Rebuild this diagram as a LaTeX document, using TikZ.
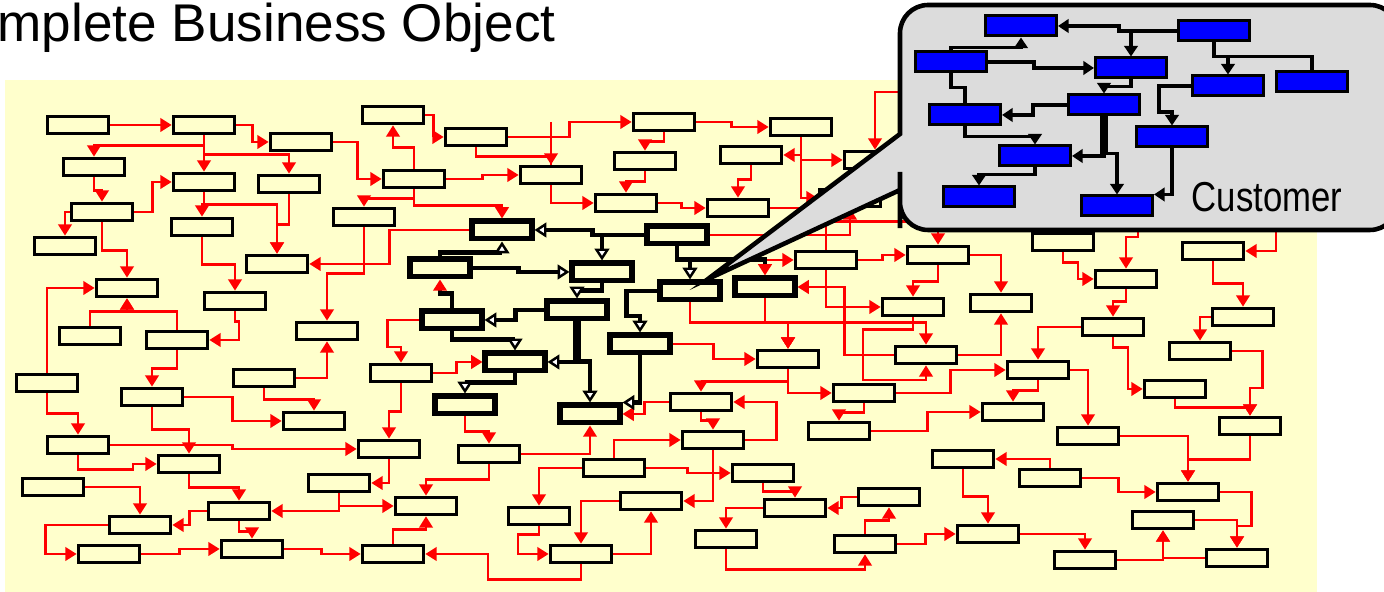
\documentclass[tikz,border=0pt]{standalone}
\usepackage{fontspec}
\setmainfont{Liberation Sans}
\newfontfamily\narrowsans[FakeStretch=0.83]{Liberation Sans}
\usetikzlibrary{arrows.meta}
\definecolor{paper}{HTML}{FFFFCC}
\definecolor{bubble}{HTML}{DCDCDC}

\begin{document}
\begin{tikzpicture}[x=0.01cm, y=-0.01cm,
    box/.style={draw, line width=0.9pt, fill=paper, minimum width=0.615cm, minimum height=0.175cm, inner sep=0pt},
    hub/.style={draw, line width=1.7pt, fill=paper, minimum width=0.59cm, minimum height=0.17cm, inner sep=0pt},
    part/.style={draw, line width=0.85pt, fill=blue, minimum width=0.71cm, minimum height=0.20cm, inner sep=0pt},
    link/.style={red, line width=0.75pt, -{Triangle[length=3.2pt,width=3.8pt]}},
    wire/.style={red, line width=0.75pt},
    tie/.style={line width=1.4pt, -{Triangle[fill=white,length=3.4pt,width=4.2pt,line width=0.7pt]}},
    redtie/.style={line width=1.4pt, -{Triangle[color=red,fill=red,length=3.2pt,width=3.8pt]}},
    rel/.style={line width=1.1pt, -{Triangle[length=3pt,width=3.8pt]}}]
    \useasboundingbox (0,0) rectangle (1384,592);

    % draw yellow sheet and title
    \fill[paper] (5,80) rectangle (1317,592);
    \node[anchor=base west, inner sep=0pt, font=\fontsize{15.1}{17}\selectfont] (title) at (-3,42) {mplete Business Object};

    % draw plain boxes
    \node[box] (n1) at (78,125) {};   \node[box] (n2) at (204,125) {};  \node[box] (n3) at (301,142) {};
    \node[box] (n4) at (94,167) {};   \node[box] (n5) at (204,182) {};  \node[box] (n6) at (289,184) {};
    \node[box] (n7) at (102,212) {};  \node[box] (n8) at (202,227) {};  \node[box] (n9) at (65,246) {};
    \node[box] (n10) at (277,264) {}; \node[box] (n11) at (127,288) {}; \node[box] (n12) at (235,301) {};
    \node[box] (n13) at (393,115) {}; \node[box] (n14) at (414,179) {}; \node[box] (n15) at (364,217) {};
    \node[box] (n16) at (327,331) {}; \node[box] (n17) at (90,336) {};  \node[box] (n18) at (177,340) {};
    \node[box] (n19) at (47,383) {};  \node[box] (n20) at (152,397) {}; \node[box] (n21) at (264,378) {};
    \node[box] (n22) at (314,421) {}; \node[box] (n23) at (401,373) {}; \node[box] (n24) at (78,445) {};
    \node[box] (n25) at (189,464) {}; \node[box] (n26) at (389,449) {}; \node[box] (n27) at (53,487) {};
    \node[box] (n28) at (339,483) {}; \node[box] (n29) at (239,511) {}; \node[box] (n30) at (426,506) {};
    \node[box] (n31) at (140,525) {}; \node[box] (n32) at (109,554) {}; \node[box] (n33) at (252,549) {};
    \node[box] (n34) at (393,554) {}; \node[box] (n35) at (476,137) {}; \node[box] (n36) at (664,122) {};
    \node[box] (n37) at (801,127) {}; \node[box] (n38) at (645,161) {}; \node[box] (n39) at (751,155) {};
    \node[box] (n40) at (551,175) {}; \node[box] (n41) at (626,203) {}; \node[box] (n42) at (738,208) {};
    \node[box] (n43) at (826,260) {}; \node[box] (n44) at (489,454) {}; \node[box] (n45) at (788,359) {};
    \node[box] (n46) at (864,393) {}; \node[box] (n47) at (701,402) {}; \node[box] (n48) at (713,440) {};
    \node[box] (n49) at (839,431) {}; \node[box] (n50) at (614,468) {}; \node[box] (n51) at (763,473) {};
    \node[box] (n52) at (651,501) {}; \node[box] (n53) at (795,508) {}; \node[box] (n54) at (889,497) {};
    \node[box] (n55) at (539,516) {}; \node[box] (n56) at (726,539) {}; \node[box] (n57) at (865,544) {};
    \node[box] (n58) at (581,554) {}; \node[box] (n59) at (926,355) {}; \node[box] (n60) at (938,255) {};
    \node[box] (n61) at (913,307) {}; \node[box] (n62) at (1001,303) {}; \node[box] (n63) at (1038,370) {};
    \node[box] (n64) at (1013,412) {}; \node[box] (n65) at (1088,436) {}; \node[box] (n66) at (1063,242) {};
    \node[box] (n67) at (1126,279) {}; \node[box] (n68) at (1113,327) {}; \node[box] (n69) at (1213,251) {};
    \node[box] (n70) at (1243,317) {}; \node[box] (n71) at (1200,351) {}; \node[box] (n72) at (1175,389) {};
    \node[box] (n73) at (1250,426) {}; \node[box] (n75) at (963,459) {};  \node[box] (n76) at (1050,478) {};
    \node[box] (n77) at (1188,492) {}; \node[box] (n78) at (1163,520) {}; \node[box] (n79) at (988,534) {};
    \node[box] (n80) at (1085,560) {}; \node[box] (n81) at (1237,558) {}; \node[box] (n83) at (850,198) {};
    \node[box] (n84) at (875,160) {};  \node[box] (n86) at (975,222) {};
    \coordinate (k1) at (1138,228);
    \coordinate (k2) at (1276,228);
    \coordinate (k3) at (898,92);

    % draw bold boxes of the customer object
    \node[hub] (t1) at (502,230) {};  \node[hub] (t2) at (677,235) {};  \node[hub] (t3) at (440,268) {};
    \node[hub] (t4) at (602,272) {};  \node[hub] (t5) at (690,291) {};  \node[hub] (t6) at (765,287) {};
    \node[hub] (t7) at (577,310) {};  \node[hub] (t8) at (452,320) {};  \node[hub] (t9) at (640,344) {};
    \node[hub] (t10) at (515,362) {}; \node[hub] (t11) at (465,405) {}; \node[hub] (t12) at (590,414) {};

    % draw red links
    \draw[link] (n1.east) -- (n2.west);
    \draw[link] (n2.east) -- ++(16,0) |- (n3.west);
    \draw[link] (n2.south) -- ++(0,10) -| (n4.north);
    \draw[link] (n2.south) -- (n5.north);
    \draw[link] (n2.south) -- ++(0,19) -| (n6.north);
    \draw[link] (n4.south) -- ++(0,13) -| (n7.north);
    \draw[link] (n7.east) -- ++(18,0) |- (n5.west);
    \draw[link] (n7.west) -| (n9.north);
    \draw[link] (n7.south) -- ++(0,28) -| (n11.north);
    \draw[link] (n5.south) -- ++(0,12) -| (n8.north);
    \draw[link] (n5.south) -- ++(0,12) -| (n10.north);
    \draw[link] (n6.south) -- ++(0,30) -| (n10.north);
    \draw[link] (n8.south) -- ++(0,27) -| (n12.north);
    \draw[link] (n3.east) -- ++(24,0) |- (n14.west);
    \draw[link] (n14.north) -- ++(0,-21) -| (n13.south);
    \draw[link] (n13.east) -- ++(8,0) |- (n35.west);
    \draw[link] (n14.east) -- ++(36,0) |- (n40.west);
    \draw[link] (n14.south) -- ++(0,9) -| (n15.north);
    \draw[link] (n14.south) -- ++(0,16) -| (t1.north);
    \draw[link] (n15.south) -- ++(0,46) -| (n16.north);
    \draw[link] (t1.west) -- ++(-80,0) |- (n10.east);
    \draw[link] (n19.north) |- (n11.west);
    \draw[link] (n17.north) -- ++(0,-14) -| (n11.south);
    \draw[link] (n18.north) -- ++(0,-18) -| (n11.south);
    \draw[link] (n12.south) -- ++(0,10) -- ++(4,0) |- (n18.east);
    \draw[link] (n18.south) -- ++(0,18) -| (n20.north);
    \draw[link] (n19.south) -- ++(0,20) -| (n24.north);
    \draw[link] (n20.east) -- ++(48,0) |- (n22.west);
    \draw[link] (n20.south) -- ++(0,22) -| (n25.north);
    \draw[link] (n21.east) -| (n16.south);
    \draw[link] (n21.south) -- ++(0,11) -| (n22.north);
    \draw[link] (t8.west) -- ++(-32,0) -- ++(0,27) -| (n23.north);
    \draw[link] (n23.east) -- ++(23,0) |- (t10.west);
    \draw[link] (n23.south) -- ++(0,28) -| (n26.north);
    \draw[link] (n24.east) -- ++(122,0) |- (n26.west);
    \draw[link] (n24.south) -- ++(0,14) -- ++(55,0) |- (n25.west);
    \draw[link] (n27.east) -| (n31.north);
    \draw[link] (n25.south) -- ++(0,13) -| (n29.north);
    \draw[link] (n26.south) |- (n28.east);
    \draw[link] (n28.south) |- (n29.east);
    \draw[link] (n28.south) |- (n30.west);
    \draw[link] (n34.north) -- ++(0,-14) -| (n30.south);
    \draw[link] (n44.south) -- ++(0,15) -| (n30.north);
    \draw[link] (n29.west) -- ++(-17,0) |- (n31.east);
    \draw[link] (n29.south) -- ++(0,10) -| (n33.north);
    \draw[link] (n31.west) -- ++(-62,0) |- (n32.west);
    \draw[link] (n32.east) -- ++(38,0) |- (n33.west);
    \draw[link] (n33.east) -- ++(37,0) |- (n34.west);
    \draw[link] (n58.south) -- ++(0,15) -- ++(-93,0) |- (n34.east);
    \draw[link] (n35.east) -- ++(61,0) |- (n36.west);
    \draw[link] (n35.south) -- ++(0,9) -| (n40.north);
    \draw[wire] (n40.north |- n36.west) -- (n40.north);
    \draw[link] (n36.east) -- ++(35,0) |- (n37.west);
    \draw[link] (n36.south) -- ++(0,9) -| (n38.north);
    \draw[link] (n38.south) -- ++(0,10) -| (n41.north);
    \draw[link] (n40.south) |- (n41.west);
    \draw[link] (n41.east) -- ++(23,0) |- (n42.west);
    \draw[link] (n37.south) |- (n39.east);
    \draw[link] (n37.south) |- (n84.west);
    \draw[link] (n37.south) |- (n83.west);
    \draw[link] (n39.south) -- ++(0,14) -| (n42.north);
    \draw[link] (n42.east) -- (n83.west |- n42.east);
    \draw[link] (t2.east) -| (n83.south);
    \draw[link] (n43.north) -- ++(0,-28) -| (n60.north);
    \draw[link] (t6.north |- n43.west) -- (n43.west);
    \draw[link] (n43.east) -- ++(24,0) |- (n60.west);
    \draw[link] (n43.south) |- (n61.west);
    \draw[link] (n59.west) -- ++(-49,0) |- (t6.east);
    \draw[link] (n60.south) -- ++(0,16) -| (n61.north);
    \draw[link] (n60.east) -| (n62.north);
    \draw[link] (n61.south) -- ++(0,5) -| (n59.north);
    \draw[link] (n61.south) -- ++(0,5) -| (n45.north);
    \draw[link] (t5.south) -- ++(0,20) -| (n45.north);
    \draw[link] (t6.south) -- ++(0,24) -| (n45.north);
    \draw[link] (n61.south) -- ++(0,12) -| (863,380) -| (n59.south);
    \draw[link] (n59.east) -| (n62.south);
    \draw[link] (n46.east) -- ++(54,0) |- (n63.west);
    \draw[link] (n46.south) -- ++(0,9) -| (n49.north);
    \draw[link] (n45.south) |- (n46.west);
    \draw[link] (n45.south) -- ++(0,12) -| (n47.north);
    \draw[link] (n68.west) -| (n63.north);
    \draw[link] (n63.south) -- ++(0,10) -| (n64.north);
    \draw[link] (n63.east) -| (n65.north);
    \draw[link] (n49.east) -- ++(56,0) |- (n64.west);
    \draw[link] (n68.south) -- ++(0,10) -- ++(15,0) |- (n72.west);
    \draw[link] (n67.south) -- ++(0,12) -| (n68.north);
    \draw[link] (n66.south) -- ++(0,10) -- ++(15,0) |- (n67.west);
    \draw[link] (k1) -- ++(0,9) -| (n67.north);
    \draw[link] (k2) |- (n69.east);
    \draw[link] (k3) -| (n84.north);
    \draw[link] (n69.south) -- ++(0,22) -| (n70.north);
    \draw[link] (n70.west) -| (n71.north);
    \draw[link] (n71.east) -- ++(30,0) -- ++(0,37) -| (n73.north);
    \draw[link] (n72.south) -- ++(0,8) -| (n73.north);
    \draw[link] (n65.east) -| (n77.north);
    \draw[link] (n73.south) -- ++(0,23) -| (n77.north);
    \draw[link] (n76.north) |- (n75.east);
    \draw[link] (n75.south) -- ++(0,27) -| (n79.north);
    \draw[link] (n76.east) -- ++(36,0) |- (n77.west);
    \draw[link] (n78.east) -| (n81.north);
    \draw[link] (n77.east) -- ++(31,0) -- ++(0,34) -| (n81.north);
    \draw[link] (n80.east) -| (n78.south);
    \draw[link] (n81.west) -| (n78.south);
    \draw[link] (n79.east) -| (n80.north);
    \draw[link] (n57.east) -- ++(28,0) |- (n79.west);
    \draw[link] (n57.north) -- ++(0,-13) -| (n54.south);
    \draw[link] (n54.west) -- ++(-15,0) |- (n53.east);
    \draw[link] (n53.west) -| (n56.north);
    \draw[link] (n56.south) -- ++(0,20) -| (n57.south);
    \draw[link] (n51.south) -- ++(0,8) -| (n53.north);
    \draw[link] (n48.east) -- ++(31,0) |- (n47.east);
    \draw[link] (n47.south) -- ++(0,8) -| (n48.north);
    \draw[link] (n47.west) -- ++(-24,0) |- (t12.east);
    \draw[link] (n48.south) |- (n52.east);
    \draw[link] (n50.east) -- ++(41,0) |- (n51.west);
    \draw[link] (n50.north) |- (n48.west);
    \draw[link] (n50.west) -| (n55.north);
    \draw[link] (n55.south) -- ++(0,8) -- ++(-21,0) |- (n58.west);
    \draw[link] (n52.west) -| (n58.north);
    \draw[link] (n58.east) -| (n52.south);
    \draw[link] (n44.east) -| (t12.south);
    \draw[link] (t11.south) -- ++(0,15) -| (n44.north);
    \draw[link] (t9.east) -- ++(41,0) |- (n45.west);

    % draw bold links of the customer object
    \draw[tie] (t2.west) -- ++(-52,0) |- (t1.east);
    \draw[tie] (t2.west) -- ++(-42,0) -| (t4.north);
    \draw[tie] (t2.south) -- ++(0,13) -| (t5.north);
    \draw[redtie] (t2.south) -- ++(0,13) -| (t6.north);
    \draw[tie] (t3.north) -- ++(0,-4) -| (t1.south);
    \draw[tie] (t3.east) -- ++(46,0) |- (t4.west);
    \draw[tie] (t4.south) -- ++(0,7) -| (t7.north);
    \draw[tie] (t7.west) -- ++(-29,0) |- (t8.east);
    \draw[redtie] (t8.north) -- ++(0,-15) -| (t3.south);
    \draw[tie] (t8.south) -- ++(0,8) -| (t10.north);
    \draw[line width=2.4pt] (t7.south) -- ++(0,40);
    \draw[tie] (t7.south) |- (t10.east);
    \draw[tie] (t7.south) -- ++(0,40) -| (t12.north);
    \draw[tie] (t5.west) -- ++(-31,0) -- ++(0,25) -| (t9.north);
    \draw[tie] (t9.south) |- (t12.north east);
    \draw[tie] (t10.south) -- ++(0,9) -| (t11.north);

    % draw callout bubble
    \draw[line width=1.3pt, fill=bubble] (708,279) -- (900,134) -- (900,120) [rounded corners=8pt]
        -- (900,5) -- (1398,5) -- (1398,230) -- (900,230) -- (900,200) [sharp corners] -- (900,190) -- cycle;

    % draw blue boxes inside the bubble
    \node[part] (c1) at (1021,26) {};  \node[part] (c2) at (1214,31) {};  \node[part] (c3) at (951,62) {};
    \node[part] (c4) at (1131,68) {};  \node[part] (c5) at (1228,86) {};  \node[part] (c6) at (1312,82) {};
    \node[part] (c7) at (965,115) {};  \node[part] (c8) at (1104,105) {}; \node[part] (c9) at (1172,137) {};
    \node[part] (c10) at (1035,156) {}; \node[part] (c11) at (979,197) {}; \node[part] (c12) at (1117,206) {};

    \draw[rel] (c2.west) -- ++(-58,0) |- (c1.east);
    \draw[rel] (c2.west) -| (c4.north);
    \draw[rel] (c2.south) -- ++(0,14) -| (c5.north);
    \draw[line width=1.1pt] (c2.south) -- ++(0,14) -| (c6.north);
    \draw[rel] (c3.north) -- ++(0,-3) -| (c1.south);
    \draw[rel] (c3.east) -- ++(46,0) |- (c4.west);
    \draw[rel] (c4.south) -- ++(0,7) -| (c8.north);
    \draw[rel] (c8.west) -- ++(-34,0) |- (c7.east);
    \draw[line width=1.1pt] (c3.south) -- ++(0,14) -| (c7.north);
    \draw[rel] (c7.south) -- ++(0,10) -| (c10.north);
    \draw[line width=2.2pt] (c8.south) -- ++(0,38);
    \draw[rel] (c8.south) |- (c10.east);
    \draw[rel] (c8.south) -- ++(0,37) -| (c12.north);
    \draw[rel] (c5.west) -- ++(-32,0) -- ++(0,26) -| (c9.north);
    \draw[rel] (c9.south) |- (c12.north east);
    \draw[rel] (c10.south) -- ++(0,7) -| (c11.north);

    \node[anchor=base west, inner sep=0pt, font=\narrowsans\fontsize{11.9}{13}\selectfont] (name) at (1191,212) {Customer};
\end{tikzpicture}
\end{document}
